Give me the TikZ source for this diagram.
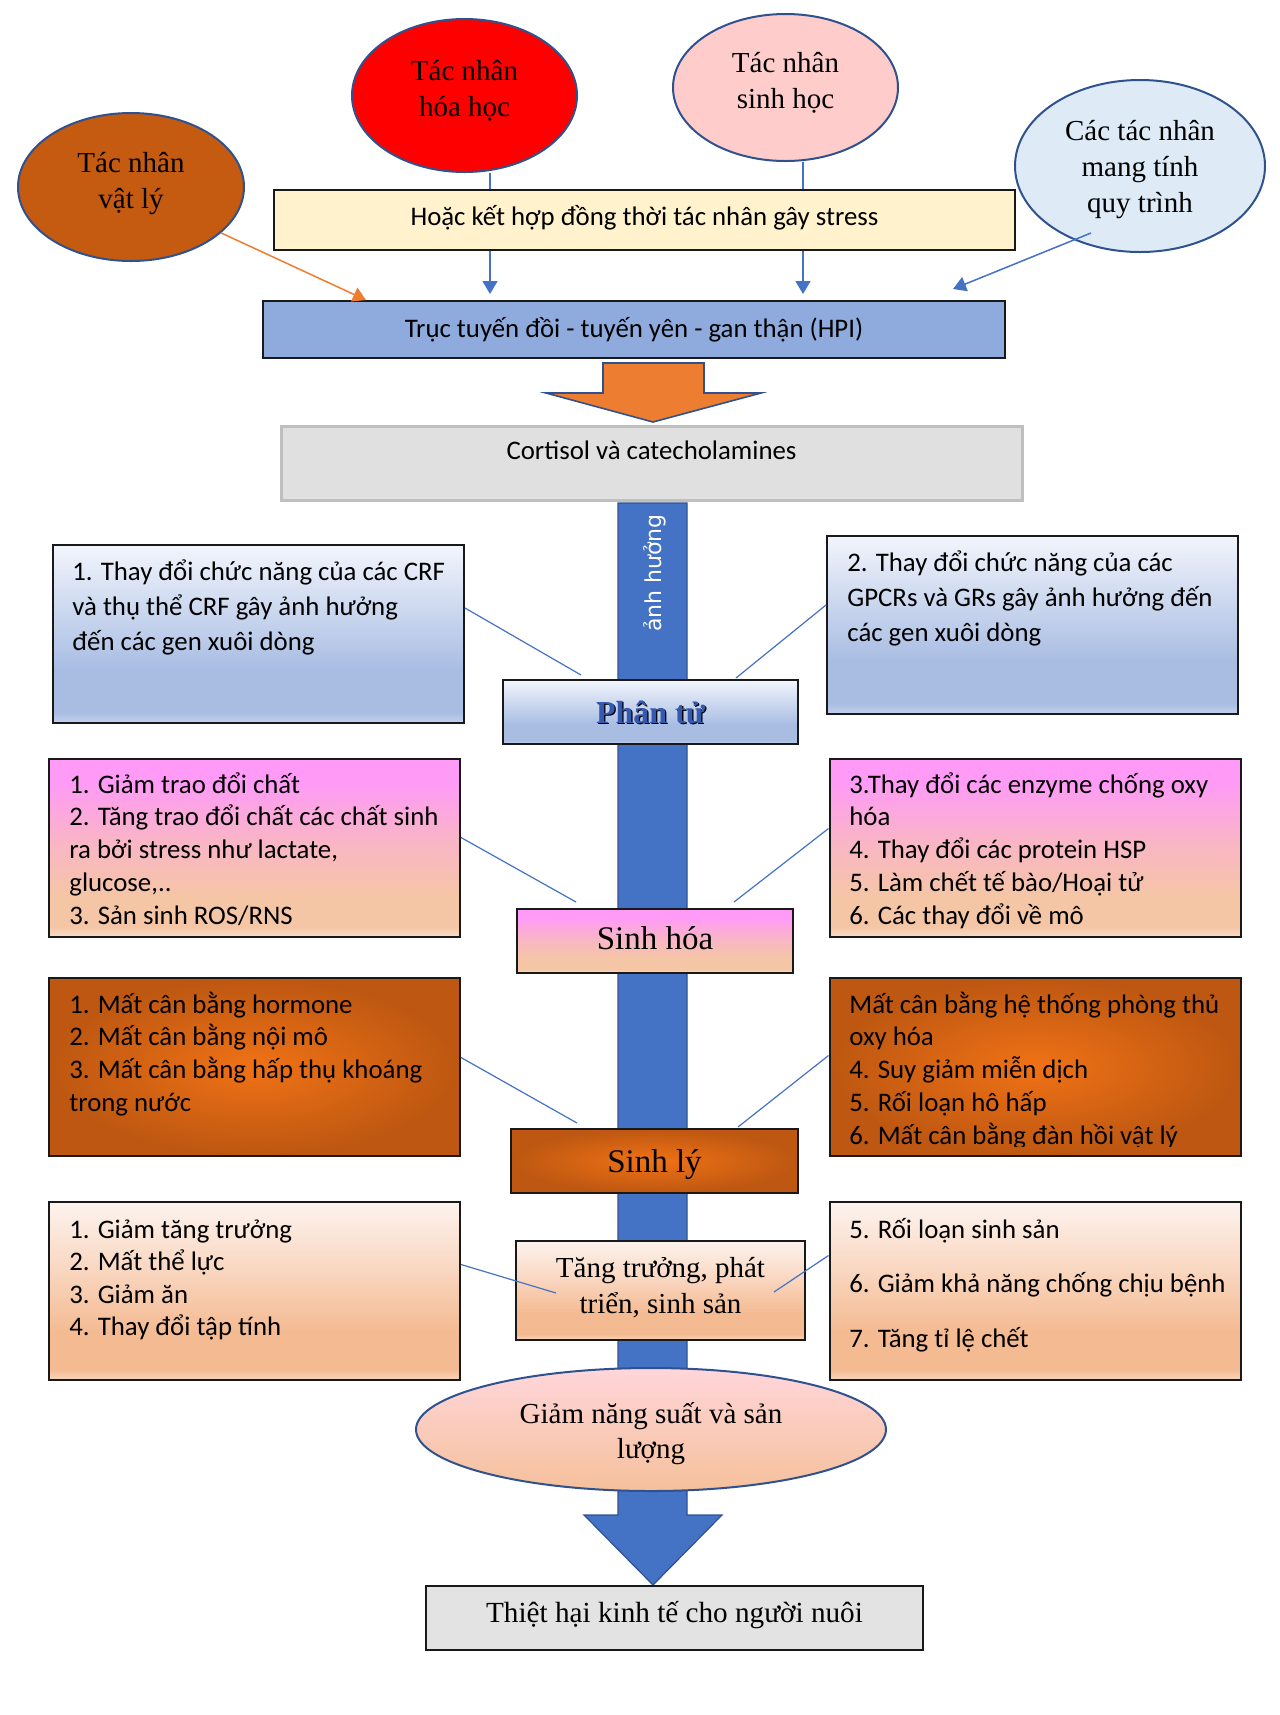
\documentclass[tikz,border=0pt]{standalone}
\usepackage{fontspec}
\setmainfont{Liberation Serif}
\newfontfamily\calfont{Carlito}
\newfontfamily\dvfont{DejaVu Sans}
\usetikzlibrary{arrows.meta,shapes.geometric}

\definecolor{elbd}{HTML}{2F528F}
\definecolor{barblue}{HTML}{4472C4}
\definecolor{arrorange}{HTML}{ED7D31}
\definecolor{physc}{HTML}{C55A11}
\definecolor{chemc}{HTML}{FF0000}
\definecolor{bioc}{HTML}{FFCCCC}
\definecolor{procc}{HTML}{DEEBF7}
\definecolor{yelc}{HTML}{FFF2CC}
\definecolor{hpic}{HTML}{8FAADC}
\definecolor{greyc}{HTML}{E0E0E0}
\definecolor{greybd}{HTML}{BFBFBF}
\definecolor{finalc}{HTML}{E3E3E3}
\definecolor{bT}{HTML}{F2F5FC}
\definecolor{bB}{HTML}{A9BDE3}
\definecolor{bE}{HTML}{C4D1EC}
\definecolor{pT}{HTML}{FF9BF6}
\definecolor{pM}{HTML}{F9B5C6}
\definecolor{pB}{HTML}{F5C6A5}
\definecolor{pE}{HTML}{F9DCC8}
\definecolor{gT}{HTML}{FDF3EE}
\definecolor{gM}{HTML}{F9D5BE}
\definecolor{gB}{HTML}{F4BA91}
\definecolor{gE}{HTML}{F8D6BF}
\definecolor{oIn}{HTML}{F07216}
\definecolor{oOut}{HTML}{BD5711}
\definecolor{yT}{HTML}{FFD6DA}
\definecolor{yB}{HTML}{F5C09B}
\definecolor{ptblue}{HTML}{3459B0}

\pgfdeclareverticalshading{blueg}{100bp}{color(0bp)=(bE); color(25bp)=(bE); color(28bp)=(bB); color(40bp)=(bB); color(75bp)=(bT); color(100bp)=(bT)}
\pgfdeclareverticalshading{pinkg}{100bp}{color(0bp)=(pE); color(25bp)=(pE); color(28bp)=(pB); color(36bp)=(pB); color(52bp)=(pM); color(68bp)=(pT); color(100bp)=(pT)}
\pgfdeclareverticalshading{peachg}{100bp}{color(0bp)=(gE); color(25bp)=(gE); color(28bp)=(gB); color(38bp)=(gB); color(55bp)=(gM); color(75bp)=(gT); color(100bp)=(gT)}

\newcommand\CL[2]{\vtop{\baselineskip=#1\relax\lineskiplimit=-100pt\lineskip=0pt\halign{\hfil##\hfil\cr#2\crcr}}}
\newcommand\LL[2]{\vtop{\baselineskip=#1\relax\lineskiplimit=-100pt\lineskip=0pt\halign{##\hfil\cr#2\crcr}}}

\begin{document}
\begin{tikzpicture}[x=0.5pt,y=-0.5pt,
  elln/.style={ellipse, draw=elbd, line width=1pt, inner sep=0pt, text height=0pt, font=\fontsize{14.5}{18}\selectfont},
  bx/.style={rectangle, draw=black!90, line width=1pt, inner sep=0pt},
  sideb/.style={bx, minimum width=205.5pt, minimum height=89pt},
  stxt/.style={anchor=base west, inner sep=0pt, font=\calfont\fontsize{13.4}{16.4}\selectfont},
  sansc/.style={font=\calfont\fontsize{13.4}{16.4}\selectfont},
  thinc/.style={draw=barblue, line width=0.6pt},
  arr/.style={draw=barblue, line width=0.75pt, -{Triangle[width=7.5pt,length=6.5pt]}},
  oarr/.style={draw=arrorange, line width=0.75pt, -{Triangle[width=7.5pt,length=6.5pt]}},
]
\useasboundingbox (0,0) rectangle (1280,1715);
\fill[white] (0,0) rectangle (1280,1715);

% main vertical block arrow
\path[fill=barblue, draw=elbd, line width=0.6pt] (618,503) -- (687,503) -- (687,1515) -- (722,1515) -- (653,1585) -- (584,1515) -- (618,1515) -- cycle;
\node[rotate=90, text=white, inner sep=0pt, font=\dvfont\fontsize{11}{13}\selectfont] (anh) at (655,573) {ảnh hưởng};

% orange block arrow
\path[fill=arrorange, draw=elbd, line width=0.8pt] (603,363) -- (704,363) -- (704,393) -- (761,393) -- (653,422) -- (546,393) -- (603,393) -- cycle;

% stressors
\node[elln, fill=physc, minimum width=113pt, minimum height=74pt, text depth=15pt] (phys) at (131,187) {\CL{18pt}{Tác nhân\cr vật lý}};
\node[elln, fill=chemc, minimum width=112.5pt, minimum height=76.5pt, text depth=15.5pt] (chem) at (464.5,95.5) {\CL{18pt}{Tác nhân\cr hóa học}};
\node[elln, fill=bioc, minimum width=112.5pt, minimum height=73.5pt, text depth=15.5pt] (bio) at (785.5,87.5) {\CL{18pt}{Tác nhân\cr sinh học}};
\node[elln, fill=procc, minimum width=125pt, minimum height=86pt, text depth=26pt] (proc) at (1140,166) {\CL{18pt}{Các tác nhân\cr mang tính\cr quy trình}};

\node[bx, sansc, fill=yelc, minimum width=370.5pt, minimum height=30pt, text height=5pt, text depth=0pt] (yellow) at (644.5,220) {Hoặc kết hợp đồng thời tác nhân gây stress};
\node[bx, sansc, fill=hpic, minimum width=371pt, minimum height=28.5pt, text height=7.5pt, text depth=0pt] (hpi) at (634,329.5) {Trục tuyến đồi - tuyến yên - gan thận (HPI)};
\node[rectangle, sansc, draw=greybd, line width=1.5pt, fill=greyc, inner sep=0pt, minimum width=370.5pt, minimum height=37pt, text height=0pt, text depth=4pt] (cort) at (651.5,463) {Cortisol và catecholamines};

% molecular level
\node[sideb, shade, shading=blueg] (mL) at (258.5,634) {};
\node[stxt] (mLt) at (72,580) {\LL{17.5pt}{1. Thay đổi chức năng của các CRF\cr và thụ thể CRF gây ảnh hưởng\cr đến các gen xuôi dòng}};
\node[sideb, shade, shading=blueg] (mR) at (1032.5,625) {};
\node[stxt] (mRt) at (847,571) {\LL{17.5pt}{2. Thay đổi chức năng của các\cr GPCRs và GRs gây ảnh hưởng đến\cr các gen xuôi dòng}};
\node[bx, shade, shading=blueg, minimum width=147.5pt, minimum height=32pt, text height=11pt, text depth=0pt, font=\bfseries\fontsize{16}{18}\selectfont] (phantu) at (650.5,712) {\makebox[0pt][l]{\kern0.7pt\raisebox{-0.7pt}{\color{black}Phân tử}}\textcolor{ptblue}{Phân tử}};

% biochemical level
\node[sideb, shade, shading=pinkg] (hL) at (254.5,848) {};
\node[stxt] (hLt) at (69,793) {\LL{16.4pt}{1. Giảm trao đổi chất\cr 2. Tăng trao đổi chất các chất sinh\cr ra bởi stress như lactate,\cr glucose,..\cr 3. Sản sinh ROS/RNS}};
\node[sideb, shade, shading=pinkg] (hR) at (1035,848) {};
\node[stxt] (hRt) at (849,793) {\LL{16.4pt}{3.Thay đổi các enzyme chống oxy\cr hóa\cr 4. Thay đổi các protein HSP\cr 5. Làm chết tế bào/Hoại tử\cr 6. Các thay đổi về mô}};
\node[bx, shade, shading=pinkg, minimum width=138pt, minimum height=32pt, text height=8pt, text depth=0pt, font=\fontsize{16.5}{18}\selectfont] (sinhhoa) at (655,941) {Sinh hóa};

% physiological level
\node[sideb, inner color=oIn, outer color=oOut] (lL) at (254.5,1067) {};
\node[stxt] (lLt) at (69,1013) {\LL{16.4pt}{1. Mất cân bằng hormone\cr 2. Mất cân bằng nội mô\cr 3. Mất cân bằng hấp thụ khoáng\cr trong nước}};
\node[sideb, inner color=oIn, outer color=oOut] (lR) at (1035,1067) {};
\begin{scope}
\clip (829,978) rectangle (1241,1146);
\node[stxt] (lRt) at (849,1013) {\LL{16.4pt}{Mất cân bằng hệ thống phòng thủ\cr oxy hóa\cr 4. Suy giảm miễn dịch\cr 5. Rối loạn hô hấp\cr 6. Mất cân bằng đàn hồi vật lý}};
\end{scope}
\node[bx, inner color=oIn, outer color=oOut, minimum width=143.5pt, minimum height=32pt, text height=11pt, text depth=0pt, font=\fontsize{16.5}{18}\selectfont] (sinhly) at (654.5,1161) {Sinh lý};

% growth level
\node[sideb, shade, shading=peachg] (gL) at (254.5,1291) {};
\node[stxt] (gLt) at (69,1238) {\LL{16.25pt}{1. Giảm tăng trưởng\cr 2. Mất thể lực\cr 3. Giảm ăn\cr 4. Thay đổi tập tính}};
\node[sideb, shade, shading=peachg] (gR) at (1035,1291) {};
\node[stxt] (gRt) at (849,1238) {\LL{27.3pt}{5. Rối loạn sinh sản\cr 6. Giảm khả năng chống chịu bệnh\cr 7. Tăng tỉ lệ chết}};
\node[bx, shade, shading=peachg, minimum width=144.5pt, minimum height=49.5pt, text height=0pt, text depth=13.5pt, font=\fontsize{14.5}{18}\selectfont] (growth) at (660.5,1290.5) {\CL{18pt}{Tăng trưởng, phát\cr triển, sinh sản}};

% outcome
\node[ellipse, draw=elbd, line width=1pt, top color=yT, bottom color=yB, inner sep=0pt, minimum width=235pt, minimum height=61.5pt, text height=0pt, text depth=6.5pt, font=\fontsize{14.5}{18}\selectfont] (yield) at (651,1429.5) {\CL{17.5pt}{Giảm năng suất và sản\cr lượng}};
\node[bx, fill=finalc, minimum width=248.5pt, minimum height=32pt, text height=4pt, text depth=0pt, font=\fontsize{14.6}{18}\selectfont] (final) at (674.5,1618) {Thiệt hại kinh tế cho người nuôi};

% top connectors
\coordinate (chemx) at (490,0);
\coordinate (biox) at (803,0);
\draw[thinc, line width=0.75pt] (chem.south -| chemx) -- (yellow.north -| chemx);
\draw[arr] (yellow.south -| chemx) -- ([yshift=3pt]hpi.north -| chemx);
\draw[thinc, line width=0.75pt] (bio.south -| biox) -- (yellow.north -| biox);
\draw[arr] (yellow.south -| biox) -- ([yshift=3pt]hpi.north -| biox);
\draw[oarr] (phys.-27) -- ([xshift=52pt]hpi.north west);
\draw[arr] ([xshift=-24.5pt,yshift=-33.5pt]proc.center) -- ([xshift=-26.5pt,yshift=5.5pt]hpi.north east);

% side connectors
\draw[thinc] ([yshift=13pt]mL.east) -- ([xshift=39.5pt,yshift=2pt]phantu.north west);
\draw[thinc] ([yshift=10pt]mR.west) -- ([xshift=-31.5pt,yshift=0.5pt]phantu.north east);
\draw[thinc] ([yshift=5.25pt]hL.east) -- ([xshift=30pt,yshift=3pt]sinhhoa.north west);
\draw[thinc] ([yshift=9.75pt]hR.west) -- ([xshift=-30pt,yshift=3pt]sinhhoa.north east);
\draw[thinc] ([yshift=4.75pt]lL.east) -- ([xshift=33.5pt,yshift=2.5pt]sinhly.north west);
\draw[thinc] ([yshift=5.75pt]lR.west) -- ([xshift=-30.5pt,yshift=0.5pt]sinhly.north east);
\draw[thinc] ([yshift=13.25pt]gL.east) -- ([xshift=20.5pt,yshift=-1.25pt]growth.west);
\draw[thinc] ([yshift=17.75pt]gR.west) -- ([xshift=-16pt,yshift=-0.75pt]growth.east);
\end{tikzpicture}
\end{document}
